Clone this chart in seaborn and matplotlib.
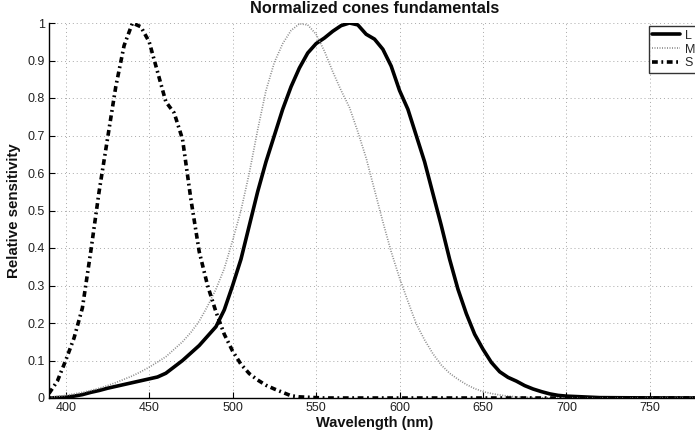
import numpy as np
import pandas as pd
import matplotlib
matplotlib.use("Agg")
import matplotlib.pyplot as plt
import seaborn as sns

wavelength = [390, 395, 400, 405, 410, 415, 420, 425, 430, 435, 440, 445, 450, 455, 460,
              465, 470, 475, 480, 485, 490, 495, 500, 505, 510, 515, 520, 525, 530, 535,
              540, 545, 550, 555, 560, 565, 570, 575, 580, 585, 590, 595, 600, 605, 610,
              615, 620, 625, 630, 635, 640, 645, 650, 655, 660, 665, 670, 675, 680, 685,
              690, 695, 700, 720, 750, 780]

L_cone = [0.000, 0.001, 0.002, 0.005, 0.009, 0.015, 0.020, 0.026, 0.031, 0.036, 0.041,
          0.046, 0.051, 0.056, 0.066, 0.083, 0.100, 0.120, 0.140, 0.165, 0.190, 0.235,
          0.300, 0.370, 0.460, 0.550, 0.630, 0.700, 0.770, 0.830, 0.880, 0.920, 0.945,
          0.960, 0.978, 0.993, 1.000, 0.995, 0.970, 0.957, 0.930, 0.885, 0.820, 0.770,
          0.700, 0.630, 0.545, 0.460, 0.370, 0.290, 0.225, 0.170, 0.130, 0.095, 0.070,
          0.055, 0.045, 0.033, 0.024, 0.017, 0.011, 0.007, 0.005, 0.001, 0.0002, 0.000]

M_cone = [0.002, 0.004, 0.007, 0.011, 0.015, 0.020, 0.026, 0.033, 0.041, 0.050, 0.059,
          0.070, 0.082, 0.096, 0.110, 0.130, 0.150, 0.175, 0.205, 0.245, 0.290, 0.345,
          0.420, 0.500, 0.600, 0.715, 0.820, 0.895, 0.945, 0.980, 0.998, 0.995, 0.970,
          0.925, 0.870, 0.820, 0.775, 0.710, 0.640, 0.555, 0.470, 0.390, 0.320, 0.258,
          0.198, 0.155, 0.118, 0.088, 0.066, 0.050, 0.036, 0.025, 0.017, 0.012, 0.008,
          0.005, 0.003, 0.002, 0.001, 0.0005, 0.0003, 0.0002, 0.0001, 0.000, 0.000, 0.000]

S_cone = [0.012, 0.045, 0.100, 0.160, 0.240, 0.390, 0.550, 0.690, 0.830, 0.940, 1.000,
          0.990, 0.950, 0.870, 0.790, 0.760, 0.690, 0.530, 0.390, 0.300, 0.230, 0.170,
          0.125, 0.090, 0.065, 0.048, 0.034, 0.024, 0.015, 0.006, 0.003, 0.002, 0.001,
          0.000, 0.000, 0.000, 0.000, 0.000, 0.000, 0.000, 0.000, 0.000, 0.000, 0.000,
          0.000, 0.000, 0.000, 0.000, 0.000, 0.000, 0.000, 0.000, 0.000, 0.000, 0.000,
          0.000, 0.000, 0.000, 0.000, 0.000, 0.000, 0.000, 0.000, 0.000, 0.000, 0.000]

x_ticks = [400, 450, 500, 550, 600, 650, 700, 750]
y_ticks = [0, 0.1, 0.2, 0.3, 0.4, 0.5, 0.6, 0.7, 0.8, 0.9, 1]
y_tick_labels = ["0", "0.1", "0.2", "0.3", "0.4", "0.5", "0.6", "0.7", "0.8", "0.9", "1"]

sns.set_theme(style="white")
plt.rcParams['font.family'] = ['Liberation Sans', 'DejaVu Sans']

W, H = 695, 437
fig = plt.figure(figsize=(W / 100, H / 100), dpi=100)
ax = fig.add_axes([49 / W, (H - 398) / H, (700 - 49) / W, (398 - 23) / H])

df = pd.DataFrame({"wl": wavelength, "L": L_cone, "M": M_cone, "S": S_cone})

sns.lineplot(data=df, x="wl", y="L", ax=ax, color="black", linewidth=2.6, label="L")
sns.lineplot(data=df, x="wl", y="M", ax=ax, color="#8a8a8a", linewidth=1.2, label="M")
ax.lines[-1].set_dashes((0.6, 0.9))
sns.lineplot(data=df, x="wl", y="S", ax=ax, color="black", linewidth=2.6, label="S")
ax.lines[-1].set_dashes((1.6, 1.0, 0.5, 1.0))

ax.set_xlim(390, 780)
ax.set_ylim(0, 1)
ax.set_xticks(x_ticks)
ax.set_yticks(y_ticks)
ax.set_yticklabels(y_tick_labels)
ax.tick_params(direction="in", length=4, width=0.8, labelsize=9, colors="black",
               pad=3, left=True, bottom=True)
ax.tick_params(labelcolor="#222222")
ax.grid(True, linestyle=(0, (1, 3)), color="#a8a8a8", linewidth=0.7)

for side in ["top", "right"]:
    ax.spines[side].set_visible(False)
for side in ["left", "bottom"]:
    ax.spines[side].set_color("black")
    ax.spines[side].set_linewidth(1.0)

ax.set_xlabel("Wavelength (nm)", fontsize=10.5, fontweight="bold", labelpad=1,
              color="#111111")
ax.set_ylabel("Relative sensitivity", fontsize=10.8, fontweight="bold", labelpad=5,
              color="#111111")
ax.set_title("Normalized cones fundamentals", fontsize=11.7, fontweight="bold", pad=7.5,
             color="#111111")

leg = ax.legend(loc="upper right", bbox_to_anchor=(699 / W, (H - 26) / H),
                bbox_transform=fig.transFigure, fontsize=9, frameon=True, fancybox=False,
                handlelength=2.2, handletextpad=0.4, borderpad=0.3, labelspacing=0.15,
                borderaxespad=0)
leg.get_frame().set_edgecolor("black")
leg.get_frame().set_linewidth(1.0)

fig.savefig("out.png", dpi=100)
